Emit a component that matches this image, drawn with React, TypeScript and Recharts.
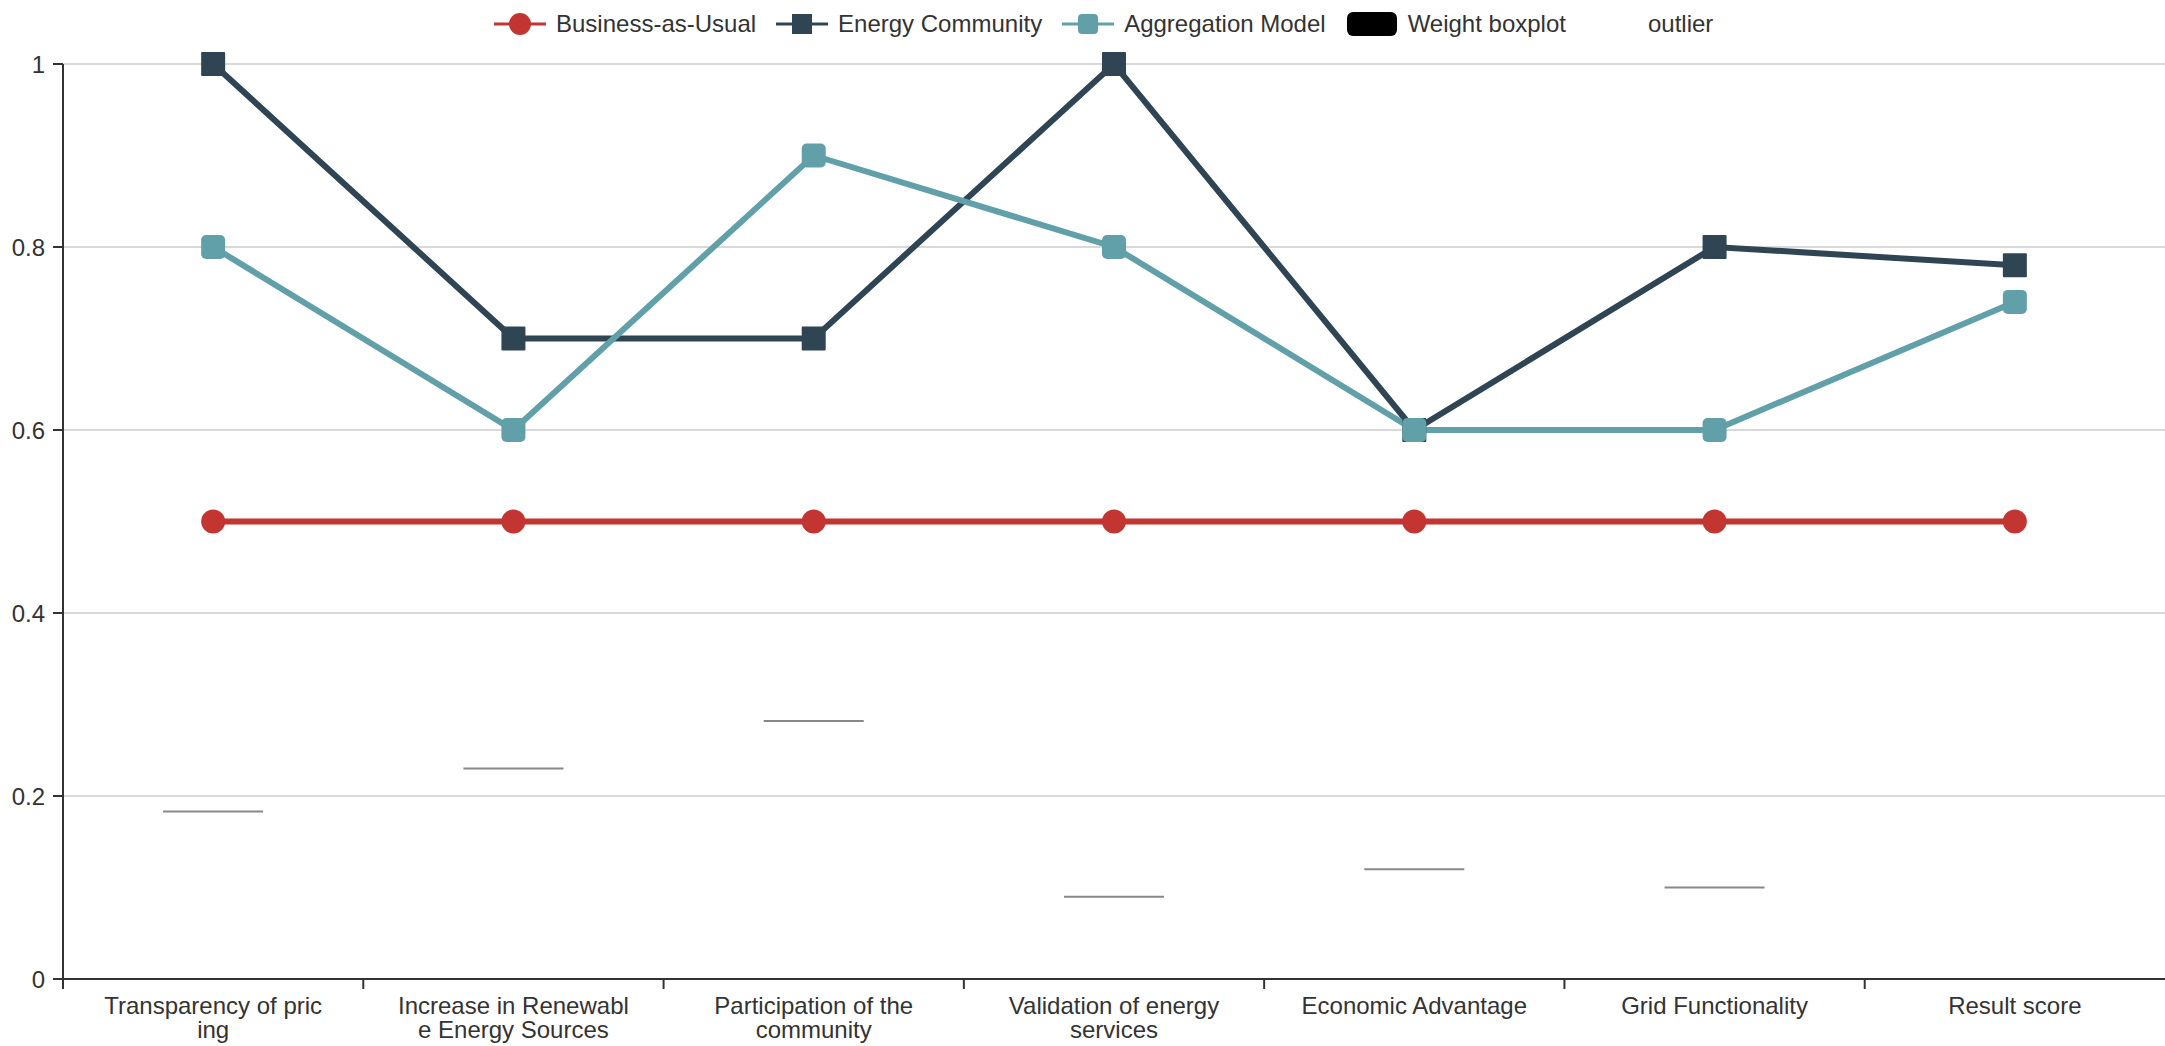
import React from 'react';
import { ComposedChart, Line, XAxis, YAxis, CartesianGrid } from 'recharts';

const categories = [
  'Transparency of pricing',
  'Increase in Renewable Energy Sources',
  'Participation of the community',
  'Validation of energy services',
  'Economic Advantage',
  'Grid Functionality',
  'Result score',
];

// category labels wrapped the way the axis breaks them
const tickLines = [
  ['Transparency of pric', 'ing'],
  ['Increase in Renewabl', 'e Energy Sources'],
  ['Participation of the', 'community'],
  ['Validation of energy', 'services'],
  ['Economic Advantage'],
  ['Grid Functionality'],
  ['Result score'],
];

const businessAsUsual = [0.5, 0.5, 0.5, 0.5, 0.5, 0.5, 0.5];
const energyCommunity = [1, 0.7, 0.7, 1, 0.6, 0.8, 0.78];
const aggregationModel = [0.8, 0.6, 0.9, 0.8, 0.6, 0.6, 0.74];
const weights = [0.183, 0.23, 0.282, 0.09, 0.12, 0.1, null];

const yTicks = [0, 0.2, 0.4, 0.6, 0.8, 1];

const RED = '#c23531';
const DARK = '#2f4554';
const TEAL = '#61a0a8';
const TEXT = '#333';
const FONT = '"Liberation Sans", Arial, Helvetica, sans-serif';

const W = 2165;
const H = 1046;
const LEFT = 63;
const PLOT_W = W - LEFT;
const BAND = PLOT_W / categories.length;

const data = categories.map((name, i) => ({
  name,
  bau: businessAsUsual[i],
  ec: energyCommunity[i],
  am: aggregationModel[i],
  weight: weights[i],
}));

const SquareDot = ({ cx, cy, fill, r = 0 }: any) => {
  if (cx == null || cy == null) return <g />;
  return <rect x={cx - 12} y={cy - 12} width={24} height={24} rx={r} fill={fill} />;
};

// degenerate boxplot: every quartile equals the weight, so only one bar remains
const WeightMark = ({ cx, cy, payload }: any) => {
  if (cx == null || cy == null || payload?.weight == null) return <g />;
  return <line x1={cx - 50} x2={cx + 50} y1={cy} y2={cy} stroke="#888" strokeWidth={2} />;
};

const CategoryTick = ({ x, y, payload, index }: any) => {
  const lines = tickLines[index] ?? [payload.value];
  return (
    <g>
      <line x1={x - BAND / 2} x2={x - BAND / 2} y1={y - 8} y2={y + 2} stroke={TEXT} strokeWidth={2} />
      <text x={x} y={y + 27} textAnchor="middle" fill={TEXT} fontSize={24} fontFamily={FONT}>
        {lines.map((l: string, k: number) => (
          <tspan key={k} x={x} dy={k === 0 ? 0 : 24}>
            {l}
          </tspan>
        ))}
      </text>
    </g>
  );
};

const legendItems = [
  { label: 'Business-as-Usual', kind: 'circle', color: RED },
  { label: 'Energy Community', kind: 'rect', color: DARK },
  { label: 'Aggregation Model', kind: 'round', color: TEAL },
  { label: 'Weight boxplot', kind: 'box', color: '#000' },
  { label: 'outlier', kind: 'none', color: 'transparent' },
];

const LegendIcon = ({ kind, color }: { kind: string; color: string }) => (
  <svg width={52} height={26} style={{ display: 'block' }}>
    {kind === 'box' && <rect x={1} y={1} width={50} height={24} rx={6} fill={color} />}
    {(kind === 'circle' || kind === 'rect' || kind === 'round') && (
      <line x1={0} x2={52} y1={13} y2={13} stroke={color} strokeWidth={3} />
    )}
    {kind === 'circle' && <circle cx={26} cy={13} r={11} fill={color} />}
    {kind === 'rect' && <rect x={16} y={3} width={20} height={20} fill={color} />}
    {kind === 'round' && <rect x={16} y={3} width={20} height={20} rx={4} fill={color} />}
  </svg>
);

const ChartLegend = () => (
  <div style={{ position: 'absolute', top: 11, left: 494, display: 'flex', alignItems: 'center' }}>
    {legendItems.map((it) => (
      <div key={it.label} style={{ display: 'flex', alignItems: 'center', marginRight: 20 }}>
        <LegendIcon kind={it.kind} color={it.color} />
        <span style={{ marginLeft: 10, fontSize: 24, color: TEXT, fontFamily: FONT, lineHeight: '26px' }}>
          {it.label}
        </span>
      </div>
    ))}
  </div>
);

export default function App() {
  return (
    <div style={{ position: 'relative', width: W, height: H, background: '#fff' }}>
      <style>{'body{margin:0;}'}</style>
      <ChartLegend />
      <ComposedChart width={W} height={H} data={data} margin={{ top: 64, right: 0, bottom: 0, left: 0 }}>
        <CartesianGrid vertical={false} stroke="#ccc" strokeWidth={1.5} />
        <XAxis
          dataKey="name"
          axisLine={{ stroke: TEXT, strokeWidth: 2 }}
          tickLine={false}
          interval={0}
          padding={{ left: BAND / 2, right: BAND / 2 }}
          tick={<CategoryTick />}
          height={67}
        />
        <YAxis
          width={LEFT}
          domain={[0, 1]}
          ticks={yTicks}
          tickFormatter={(v: number) => String(v)}
          axisLine={{ stroke: TEXT, strokeWidth: 2 }}
          tickLine={{ stroke: TEXT, strokeWidth: 2 }}
          tickSize={10}
          tickMargin={8}
          tick={{ fill: TEXT, fontSize: 24, fontFamily: FONT }}
        />
        <Line
          dataKey="bau"
          type="linear"
          stroke={RED}
          strokeWidth={6}
          dot={{ r: 12, fill: RED, stroke: 'none' }}
          activeDot={false}
          isAnimationActive={false}
        />
        <Line
          dataKey="ec"
          type="linear"
          stroke={DARK}
          strokeWidth={6}
          dot={<SquareDot fill={DARK} r={1} />}
          activeDot={false}
          isAnimationActive={false}
        />
        <Line
          dataKey="am"
          type="linear"
          stroke={TEAL}
          strokeWidth={6}
          dot={<SquareDot fill={TEAL} r={5} />}
          activeDot={false}
          isAnimationActive={false}
        />
        <Line
          dataKey="weight"
          type="linear"
          stroke="none"
          dot={<WeightMark />}
          activeDot={false}
          legendType="none"
          isAnimationActive={false}
        />
      </ComposedChart>
    </div>
  );
}
